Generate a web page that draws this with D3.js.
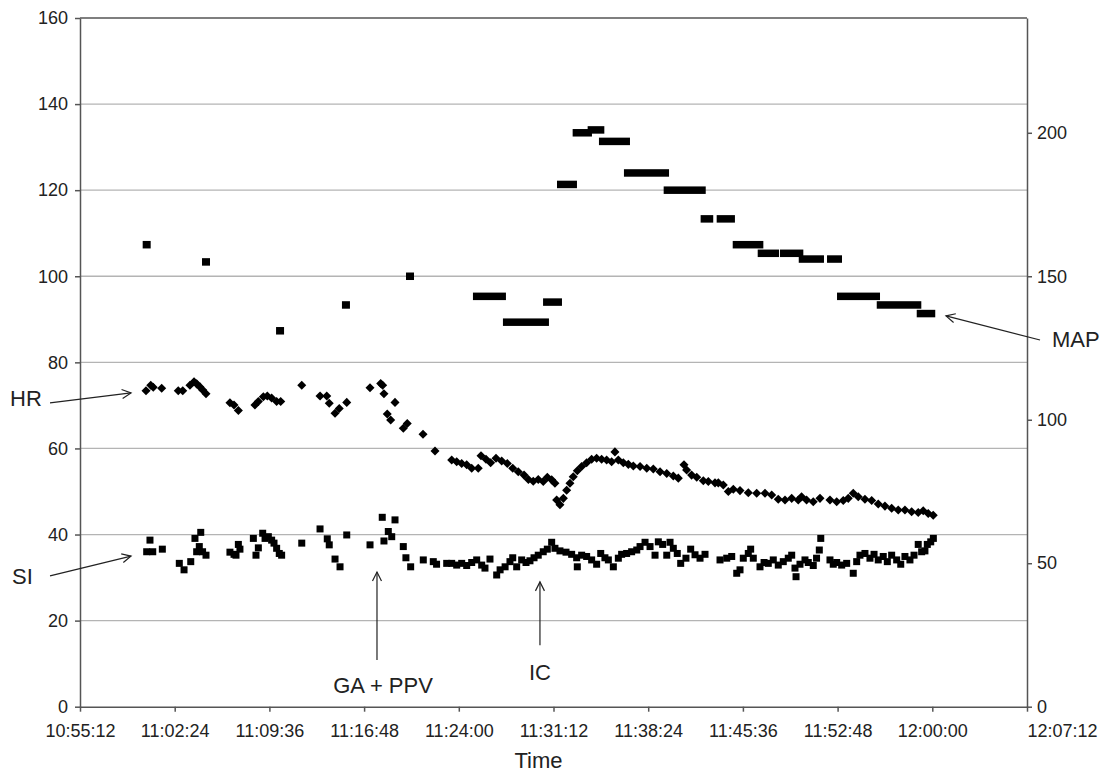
<!DOCTYPE html>
<html>
<head>
<meta charset="UTF-8">
<title>HR, SI and MAP over time</title>
<script src="https://d3js.org/d3.v7.min.js"></script>
<style>
    body { margin: 0; background: #fff; }
    svg { font-family: "Liberation Sans", Arial, sans-serif; }
    .axis path, .axis line { stroke: #555; stroke-width: 1.5; }
    .axis text { font-size: 18px; fill: #222; }
    .grid line { stroke: #b4b4b4; stroke-width: 1.3; }
    .note { font-size: 22px; fill: #222; }
</style>
</head>
<body>
<div class="chart"></div>
<script>

// tick labels
var xTickLabels = ["10:55:12", "11:02:24", "11:09:36", "11:16:48", "11:24:00", "11:31:12",
                   "11:38:24", "11:45:36", "11:52:48", "12:00:00", "12:07:12"];
var leftTicks = [0, 20, 40, 60, 80, 100, 120, 140, 160];
var rightTicks = [0, 50, 100, 150, 200];

// times are minutes after 11:00:00
// MAP (right axis): [from, to, value], runs of equal readings
var mapRuns = [
    [0.27, 0.27, 161], [4.78, 4.78, 155], [10.41, 10.41, 131], [15.42, 15.42, 140],
    [20.29, 20.29, 150], [25.38, 27.28, 143], [27.66, 30.55, 134], [30.71, 31.54, 141],
    [31.77, 32.68, 182], [32.96, 33.82, 200], [34.10, 34.76, 201], [34.96, 36.71, 197],
    [36.86, 39.68, 186], [39.88, 42.47, 180], [42.69, 43.04, 170], [43.91, 44.69, 170],
    [45.13, 46.85, 161], [47.03, 48.04, 158], [48.72, 49.89, 158], [50.15, 51.46, 156],
    [52.30, 52.83, 156], [53.06, 55.72, 143], [56.08, 58.86, 140], [59.12, 59.92, 137]
];

// HR (left axis): [time, value]
var hrPoints = [
    [0.22, 73.4], [0.58, 74.7], [0.77, 74.2], [1.41, 74.0], [2.67, 73.4], [3.01, 73.4],
    [3.56, 74.7], [3.87, 75.5], [4.07, 75.0], [4.32, 74.3], [4.53, 73.6], [4.78, 72.7],
    [6.60, 70.6], [6.91, 70.1], [7.24, 68.8], [8.50, 70.1], [8.76, 70.9], [9.14, 72.0],
    [9.44, 72.2], [9.77, 71.7], [10.15, 70.9], [10.46, 70.9], [12.06, 74.7], [13.45, 72.2],
    [13.96, 72.2], [14.15, 70.5], [14.59, 68.2], [14.91, 69.3], [15.48, 70.7], [17.25, 74.1],
    [18.06, 75.1], [18.21, 74.7], [18.31, 72.7], [18.56, 68.0], [18.82, 66.6], [19.15, 70.7],
    [19.78, 64.7], [20.08, 65.8], [21.28, 63.3], [22.19, 59.4], [23.46, 57.3], [23.84, 56.9],
    [24.22, 56.5], [24.60, 56.2], [24.98, 55.4], [25.48, 55.4], [25.69, 58.3], [26.07, 57.5],
    [26.42, 56.7], [26.83, 57.7], [27.26, 57.1], [27.69, 56.5], [28.10, 55.4], [28.52, 54.6],
    [28.96, 53.8], [29.29, 52.8], [29.66, 52.4], [30.04, 52.8], [30.42, 52.3], [30.73, 53.3],
    [31.06, 52.7], [31.31, 51.9], [31.44, 48.0], [31.69, 46.9], [31.95, 48.4], [32.20, 50.3],
    [32.45, 51.9], [32.70, 53.4], [33.01, 54.8], [33.34, 55.8], [33.72, 56.7], [34.10, 57.5],
    [34.48, 57.7], [34.86, 57.5], [35.24, 57.3], [35.62, 56.9], [35.87, 59.2], [36.13, 57.3],
    [36.51, 56.7], [36.89, 56.3], [37.27, 55.9], [37.78, 55.8], [38.29, 55.4], [38.79, 55.2],
    [39.30, 54.6], [39.81, 54.2], [40.31, 53.6], [40.69, 53.1], [41.12, 56.2], [41.32, 55.0],
    [41.70, 53.8], [42.09, 53.3], [42.59, 52.5], [42.97, 52.3], [43.48, 52.0], [43.73, 52.0],
    [44.11, 51.5], [44.49, 50.0], [44.87, 50.5], [45.38, 50.2], [46.01, 49.7], [46.65, 49.6],
    [47.28, 49.6], [47.79, 49.2], [48.29, 48.2], [48.80, 48.0], [49.31, 48.4], [49.81, 48.0],
    [50.06, 48.8], [50.44, 48.0], [50.95, 47.6], [51.46, 48.4], [52.22, 48.0], [52.73, 47.6],
    [53.23, 47.9], [53.61, 48.4], [53.99, 49.6], [54.37, 48.8], [54.88, 48.2], [55.39, 47.9],
    [55.89, 47.1], [56.40, 46.6], [56.91, 46.1], [57.41, 45.7], [57.92, 45.7], [58.43, 45.3],
    [58.93, 45.1], [59.31, 45.5], [59.69, 44.9], [60.07, 44.5]
];

// SI (left axis): [time, value]
var siPoints = [
    [0.27, 36.0], [0.52, 38.7], [0.73, 36.0], [1.46, 36.6], [2.75, 33.3], [3.11, 31.8],
    [3.62, 33.7], [3.94, 39.1], [4.07, 36.0], [4.27, 37.2], [4.38, 40.5], [4.52, 36.0],
    [4.78, 35.2], [6.60, 35.9], [6.91, 35.4], [7.06, 35.2], [7.24, 37.7], [7.36, 36.6],
    [8.38, 39.1], [8.58, 35.2], [8.76, 36.9], [9.09, 40.3], [9.27, 39.1], [9.52, 39.5],
    [9.77, 38.7], [9.95, 38.0], [10.15, 36.8], [10.35, 35.6], [10.53, 35.2], [12.06, 38.0],
    [13.45, 41.3], [14.00, 39.0], [14.15, 37.6], [14.59, 34.3], [14.97, 32.5], [15.48, 39.9],
    [17.25, 37.6], [18.18, 44.0], [18.31, 38.5], [18.64, 40.7], [18.90, 39.5], [19.15, 43.4],
    [19.78, 37.2], [19.98, 34.6], [20.34, 32.5], [21.30, 34.1], [22.06, 33.7], [22.31, 33.1],
    [23.08, 33.3], [23.46, 33.3], [23.84, 32.9], [24.22, 33.3], [24.60, 32.8], [24.98, 33.5],
    [25.36, 34.1], [25.74, 32.9], [25.99, 32.2], [26.37, 34.3], [26.88, 30.6], [27.14, 31.8],
    [27.52, 32.5], [27.89, 33.7], [28.10, 34.6], [28.40, 32.5], [28.78, 34.1], [29.11, 33.5],
    [29.41, 33.9], [29.72, 34.6], [30.04, 35.2], [30.42, 36.0], [30.73, 36.6], [31.06, 38.2],
    [31.31, 36.8], [31.69, 36.2], [32.15, 35.9], [32.58, 35.4], [32.96, 34.6], [33.01, 32.5],
    [33.34, 35.2], [33.72, 34.9], [34.10, 34.1], [34.48, 33.1], [34.79, 35.6], [35.11, 34.6],
    [35.37, 34.1], [35.75, 32.5], [36.13, 34.5], [36.38, 35.4], [36.76, 35.6], [37.14, 36.0],
    [37.53, 36.4], [37.78, 37.2], [38.16, 38.2], [38.54, 37.2], [38.92, 35.2], [39.17, 38.3],
    [39.50, 37.7], [39.81, 35.2], [40.06, 38.2], [40.31, 36.8], [40.61, 35.6], [40.87, 33.3],
    [41.27, 34.5], [41.63, 36.6], [41.96, 35.3], [42.34, 34.5], [42.72, 35.4], [43.86, 34.1],
    [44.37, 34.5], [44.75, 34.9], [45.13, 31.0], [45.38, 31.8], [45.63, 34.5], [46.01, 35.6],
    [46.19, 36.6], [46.39, 34.5], [46.90, 32.5], [47.21, 33.5], [47.53, 33.3], [47.91, 34.1],
    [48.29, 32.9], [48.67, 33.7], [49.05, 34.5], [49.31, 35.2], [49.56, 32.2], [49.64, 30.2],
    [49.94, 33.1], [50.32, 34.1], [50.57, 33.5], [50.95, 32.8], [51.20, 34.5], [51.41, 36.4],
    [51.52, 39.1], [52.22, 34.1], [52.47, 33.1], [52.73, 33.5], [53.11, 32.9], [53.49, 33.3],
    [53.99, 31.0], [54.25, 33.7], [54.50, 35.2], [54.88, 35.6], [55.26, 34.5], [55.57, 35.4],
    [55.89, 34.1], [56.27, 34.9], [56.58, 33.7], [56.91, 35.2], [57.29, 34.1], [57.60, 33.1],
    [57.92, 34.9], [58.30, 34.1], [58.61, 35.2], [58.93, 37.7], [59.19, 36.0], [59.44, 36.2],
    [59.62, 37.7], [59.88, 38.3], [60.08, 39.1]
];

// labels with arrows: text, arrow tail, arrow tip, label spot (minutes, left-axis value)
var notes = [
    {text: "HR", tail: [-7.08, 70.6], tip: [-0.92, 72.9], at: [-10.12, 69.9], anchor: "start"},
    {text: "SI", tail: [-7.08, 30.4], tip: [-0.92, 35.0], at: [-9.97, 28.5], anchor: "start"},
    {text: "GA + PPV", tail: [17.78, 10.85], tip: [17.78, 31.3], at: [18.24, 3.2], anchor: "middle"},
    {text: "IC", tail: [30.17, 14.3], tip: [30.17, 29.0], at: [30.17, 6.2], anchor: "middle"},
    {text: "MAP", tail: [68.19, 85.2], tip: [61.04, 90.8], at: [69.1, 83.6], anchor: "start"}
];

var width = 1102, height = 772;
var margin = {top: 18, right: 75, bottom: 65.3, left: 80};

var parseClock = d3.timeParse("%H:%M:%S");
var base = parseClock("11:00:00");
function atMinute(m) { return new Date(base.getTime() + m * 60000); }

var svg = d3.select(".chart").append("svg")
        .attr("width", width)
        .attr("height", height);

var x = d3.scaleTime()
        .domain([parseClock(xTickLabels[0]), parseClock(xTickLabels[xTickLabels.length - 1])])
        .range([margin.left, width - margin.right]);
var yL = d3.scaleLinear().domain([0, 160]).range([height - margin.bottom, margin.top]);
var yR = d3.scaleLinear().domain([0, 240]).range([height - margin.bottom, margin.top]);

// gridlines
svg.append("g").attr("class", "grid")
        .selectAll("line")
        .data(leftTicks.filter(function (d) { return d > 0 && d < 160; }))
        .enter().append("line")
        .attr("x1", x.range()[0]).attr("x2", x.range()[1])
        .attr("y1", function (d) { return yL(d); })
        .attr("y2", function (d) { return yL(d); });

// top border
svg.append("line")
        .attr("x1", x.range()[0]).attr("x2", x.range()[1])
        .attr("y1", yL(160)).attr("y2", yL(160))
        .attr("stroke", "#555").attr("stroke-width", 1.5);

// axes
var gx = svg.append("g").attr("class", "axis")
        .attr("transform", "translate(0," + yL(0) + ")")
        .call(d3.axisBottom(x)
                .tickValues(xTickLabels.map(parseClock))
                .tickFormat(d3.timeFormat("%H:%M:%S"))
                .tickSizeInner(5).tickSizeOuter(0).tickPadding(13));
gx.selectAll(".tick:last-of-type text").attr("text-anchor", "start");

svg.append("g").attr("class", "axis")
        .attr("transform", "translate(" + x.range()[0] + ",0)")
        .call(d3.axisLeft(yL).tickValues(leftTicks).tickSizeInner(5).tickSizeOuter(0).tickPadding(7));

svg.append("g").attr("class", "axis")
        .attr("transform", "translate(" + x.range()[1] + ",0)")
        .call(d3.axisRight(yR).tickValues(rightTicks).tickSizeInner(5).tickSizeOuter(0).tickPadding(5));

// MAP runs
svg.append("g").selectAll("rect")
        .data(mapRuns)
        .enter().append("rect")
        .attr("x", function (d) { return x(atMinute(d[0])) - 4; })
        .attr("width", function (d) { return x(atMinute(d[1])) - x(atMinute(d[0])) + 8; })
        .attr("y", function (d) { return yR(d[2]) - 3.75; })
        .attr("height", 7.5)
        .attr("fill", "#000");

// SI squares
svg.append("g").selectAll("rect")
        .data(siPoints)
        .enter().append("rect")
        .attr("x", function (d) { return x(atMinute(d[0])) - 3.5; })
        .attr("y", function (d) { return yL(d[1]) - 3.5; })
        .attr("width", 7).attr("height", 7)
        .attr("fill", "#000");

// HR diamonds
var diamond = d3.symbol().type(d3.symbolDiamond2).size(52);
svg.append("g").selectAll("path")
        .data(hrPoints)
        .enter().append("path")
        .attr("d", diamond)
        .attr("transform", function (d) {
            return "translate(" + x(atMinute(d[0])) + "," + yL(d[1]) + ")";
        })
        .attr("fill", "#000");

// open arrow head
svg.append("defs").append("marker")
        .attr("id", "head")
        .attr("markerUnits", "userSpaceOnUse")
        .attr("markerWidth", 14).attr("markerHeight", 12)
        .attr("refX", 10).attr("refY", 6)
        .attr("orient", "auto")
        .append("path")
        .attr("d", "M1,1.5 L10,6 L1,10.5")
        .attr("fill", "none").attr("stroke", "#222").attr("stroke-width", 1.2);

var note = svg.append("g").selectAll("g").data(notes).enter().append("g");
note.append("line")
        .attr("x1", function (d) { return x(atMinute(d.tail[0])); })
        .attr("y1", function (d) { return yL(d.tail[1]); })
        .attr("x2", function (d) { return x(atMinute(d.tip[0])); })
        .attr("y2", function (d) { return yL(d.tip[1]); })
        .attr("stroke", "#222").attr("stroke-width", 1.2)
        .attr("marker-end", "url(#head)");
note.append("text").attr("class", "note")
        .attr("x", function (d) { return x(atMinute(d.at[0])); })
        .attr("y", function (d) { return yL(d.at[1]); })
        .attr("text-anchor", function (d) { return d.anchor; })
        .text(function (d) { return d.text; });

// x title
svg.append("text").attr("class", "note")
        .attr("x", (x.range()[0] + x.range()[1]) / 2 - 15)
        .attr("y", 768)
        .attr("text-anchor", "middle")
        .text("Time");

</script>
</body>
</html>
